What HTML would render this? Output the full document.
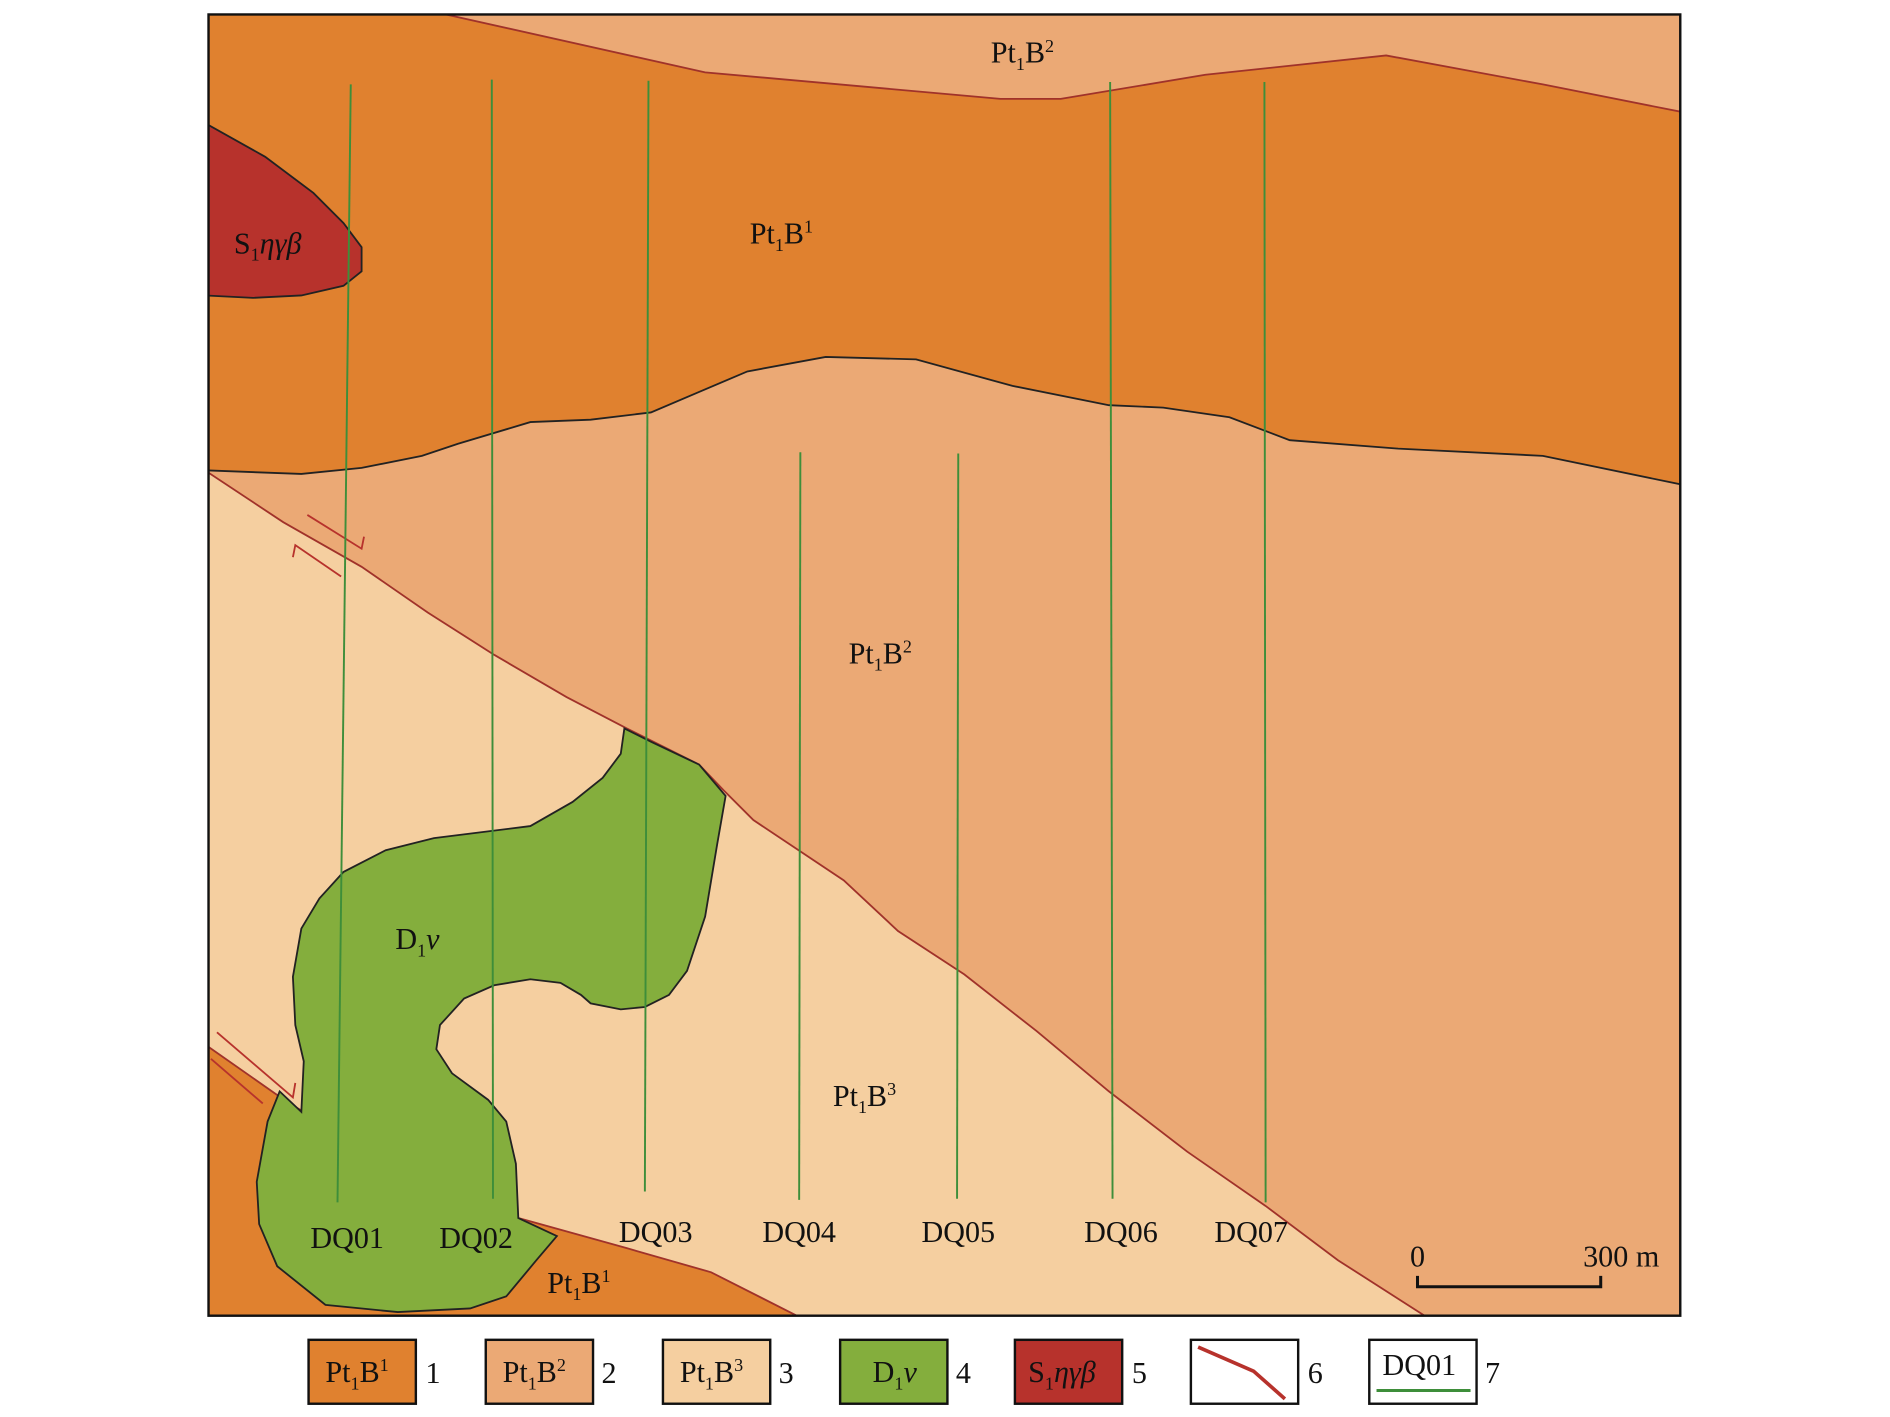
<!DOCTYPE html>
<html><head><meta charset="utf-8"><style>
html,body{margin:0;padding:0;background:#fff}
svg{display:block}
text{font-family:"Liberation Serif",serif;fill:#111}
</style></head><body>
<svg width="1890" height="1417" viewBox="0 0 1568 1175" preserveAspectRatio="none" xmlns="http://www.w3.org/2000/svg">
<defs><clipPath id="c"><rect x="173" y="12" width="1221" height="1079"/></clipPath></defs>
<g clip-path="url(#c)">
<rect x="173" y="12" width="1221" height="1079" fill="#EBA975"/>
<path d="M170,12 L370,12 L585,60 L830,82 L880,82 L1000,62 L1150,46 L1280,70 L1396,93 L1396,402 L1280,378 L1160,372 L1070,365 L1020,346 L965,338 L920,336 L840,320 L760,298 L685,296 L620,308 L580,325 L540,342 L490,348 L440,350 L380,368 L350,378 L300,388 L250,393 L170,390 Z" fill="#E0812F"/>
<path d="M370,12 L585,60 L830,82 L880,82 L1000,62 L1150,46 L1280,70 L1396,93" fill="none" stroke="#A0322A" stroke-width="1.5"/>
<path d="M170,390 L250,393 L300,388 L350,378 L380,368 L440,350 L490,348 L540,342 L580,325 L620,308 L685,296 L760,298 L840,320 L920,336 L965,338 L1020,346 L1070,365 L1160,372 L1280,378 L1396,402" fill="none" stroke="#222" stroke-width="1.5"/>
<path d="M170,390 L235,433 L300,470 L355,508 L410,543 L470,578 L520,604 L580,634 L600,655 L625,680 L700,730 L745,772 L800,808 L860,855 L920,905 L985,955 L1050,1000 L1110,1045 L1185,1093 L170,1093 Z" fill="#F5CFA0"/>
<path d="M170,390 L235,433 L300,470 L355,508 L410,543 L470,578 L520,604 L580,634 L600,655 L625,680 L700,730 L745,772 L800,808 L860,855 L920,905 L985,955 L1050,1000 L1110,1045 L1185,1093" fill="none" stroke="#A0322A" stroke-width="1.5"/>
<path d="M170,866 L240,915 L300,950 L355,985 L430,1010 L520,1035 L590,1055 L665,1093 L170,1093 Z" fill="#E0812F" stroke="#A0322A" stroke-width="1.5"/>
<path d="M518,604 L540,615 L580,634 L602,660 L595,700 L585,760 L570,805 L555,825 L535,835 L515,837 L490,832 L482,825 L465,815 L440,812 L410,817 L385,828 L365,850 L362,870 L375,890 L405,912 L420,930 L428,965 L430,1010 L462,1025 L445,1045 L420,1075 L390,1085 L330,1088 L270,1082 L230,1050 L215,1015 L213,980 L222,930 L232,905 L250,922 L252,880 L245,850 L243,810 L250,770 L265,745 L285,723 L320,705 L360,695 L440,685 L475,665 L500,645 L515,625 Z" fill="#84AE3D" stroke="#222" stroke-width="1.5"/>
<path d="M170,102 L220,130 L260,160 L285,185 L300,205 L300,225 L285,237 L250,245 L210,247 L170,245 Z" fill="#B7322C" stroke="#222" stroke-width="1.5"/>
<g stroke="#B7322C" stroke-width="1.5" fill="none">
<path d="M255,427 L300,455 L302,445"/><path d="M283,478 L245,452 L243,462"/>
<path d="M180,856 L243,910 L245,898"/><path d="M175,878 L218,915"/>
</g>
<g stroke="#3E8E3A" stroke-width="1.6">
<line x1="291" y1="70" x2="280" y2="997"/><line x1="408" y1="66" x2="409" y2="994"/>
<line x1="538" y1="67" x2="535" y2="988"/><line x1="664" y1="375" x2="663" y2="995"/>
<line x1="795" y1="376" x2="794" y2="994"/><line x1="921" y1="68" x2="923" y2="994"/>
<line x1="1049" y1="68" x2="1050" y2="997"/>
</g>
</g>
<rect x="173" y="12" width="1221" height="1079" fill="none" stroke="#111" stroke-width="2"/>
<g font-size="25">
<text x="822" y="52">Pt<tspan font-size="15" dy="6">1</tspan><tspan dy="-6">B</tspan><tspan font-size="15" dy="-9">2</tspan></text>
<text x="622" y="202">Pt<tspan font-size="15" dy="6">1</tspan><tspan dy="-6">B</tspan><tspan font-size="15" dy="-9">1</tspan></text>
<text x="194" y="210">S<tspan font-size="15" dy="6">1</tspan><tspan dy="-6" font-style="italic">ηγβ</tspan></text>
<text x="704" y="550">Pt<tspan font-size="15" dy="6">1</tspan><tspan dy="-6">B</tspan><tspan font-size="15" dy="-9">2</tspan></text>
<text x="328" y="787">D<tspan font-size="15" dy="6">1</tspan><tspan dy="-6" font-style="italic">v</tspan></text>
<text x="691" y="917">Pt<tspan font-size="15" dy="6">1</tspan><tspan dy="-6">B</tspan><tspan font-size="15" dy="-9">3</tspan></text>
<text x="454" y="1072">Pt<tspan font-size="15" dy="6">1</tspan><tspan dy="-6">B</tspan><tspan font-size="15" dy="-9">1</tspan></text>
<g text-anchor="middle">
<text x="288" y="1035">DQ01</text><text x="395" y="1035">DQ02</text><text x="544" y="1030">DQ03</text>
<text x="663" y="1030">DQ04</text><text x="795" y="1030">DQ05</text><text x="930" y="1030">DQ06</text><text x="1038" y="1030">DQ07</text>
<text x="1176" y="1050">0</text><text x="1345" y="1050">300 m</text>
</g>
</g>
<path d="M1176,1058 L1176,1067 L1328,1067 L1328,1058" fill="none" stroke="#111" stroke-width="2.5"/>
<g stroke="#111" stroke-width="2">
<rect x="256" y="1111" width="89" height="53" fill="#E0812F"/>
<rect x="403" y="1111" width="89" height="53" fill="#EBA975"/>
<rect x="550" y="1111" width="89" height="53" fill="#F5CFA0"/>
<rect x="697" y="1111" width="89" height="53" fill="#84AE3D"/>
<rect x="842" y="1111" width="89" height="53" fill="#B7322C"/>
<rect x="988" y="1111" width="89" height="53" fill="#fff"/>
<rect x="1136" y="1111" width="89" height="53" fill="#fff"/>
</g>
<path d="M994,1117 L1040,1137 L1066,1160" fill="none" stroke="#B7322C" stroke-width="3"/>
<line x1="1142" y1="1153" x2="1220" y2="1153" stroke="#3E8E3A" stroke-width="2.5"/>
<g font-size="25">
<text x="270" y="1146">Pt<tspan font-size="15" dy="6">1</tspan><tspan dy="-6">B</tspan><tspan font-size="15" dy="-9">1</tspan></text>
<text x="417" y="1146">Pt<tspan font-size="15" dy="6">1</tspan><tspan dy="-6">B</tspan><tspan font-size="15" dy="-9">2</tspan></text>
<text x="564" y="1146">Pt<tspan font-size="15" dy="6">1</tspan><tspan dy="-6">B</tspan><tspan font-size="15" dy="-9">3</tspan></text>
<text x="724" y="1146">D<tspan font-size="15" dy="6">1</tspan><tspan dy="-6" font-style="italic">v</tspan></text>
<text x="853" y="1146">S<tspan font-size="15" dy="6">1</tspan><tspan dy="-6" font-style="italic">ηγβ</tspan></text>
<text x="1147" y="1140">DQ01</text>
<text x="353" y="1147">1</text><text x="499" y="1147">2</text><text x="646" y="1147">3</text>
<text x="793" y="1147">4</text><text x="939" y="1147">5</text><text x="1085" y="1147">6</text><text x="1232" y="1147">7</text>
</g>
</svg>
</body></html>
